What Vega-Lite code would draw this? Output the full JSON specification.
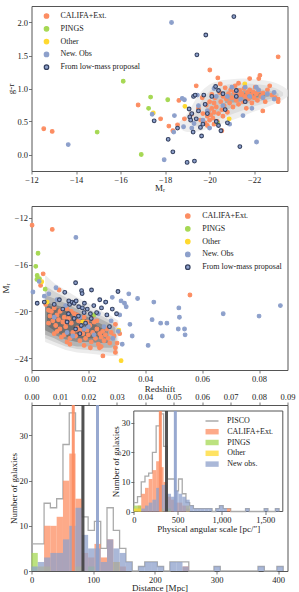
{
"$schema": "https://vega.github.io/schema/vega-lite/v6.json",
"padding": {"left": 0.5, "top": 5, "right": 0, "bottom": 0},
"background": "white",
"spacing": 35,
"bounds": "flush",
"resolve": {"scale": {"color": "independent", "fill": "independent", "stroke": "independent", "strokeDash": "independent"}, "legend": {"color": "independent", "fill": "independent", "stroke": "independent", "strokeDash": "independent"}},
"config": {
  "font": "Liberation Serif",
  "view": {"stroke": "#555", "strokeWidth": 1},
  "axis": {"grid": false, "domain": false, "labelFlush": false, "labelOverlap": false, "tickColor": "#555", "tickSize": 3, "tickWidth": 0.8, "labelPadding": 1, "labelFont": "Liberation Serif", "titleFont": "Liberation Serif", "labelFontSize": 8.5, "titleFontSize": 9, "titleFontWeight": "normal", "labelColor": "#222", "titleColor": "#222", "titleBaseline": "middle"},
  "legend": {"labelFont": "Liberation Serif", "labelFontSize": 8, "labelColor": "#222", "padding": 0}
},
"datasets": {
  "cont1": [
    {"x":-18.6,"lo":0.42,"hi":0.48,"lev":1},{"x":-19.0,"lo":0.34,"hi":0.62,"lev":1},{"x":-19.5,"lo":0.35,"hi":0.90,"lev":1},{"x":-20.0,"lo":0.40,"hi":1.06,"lev":1},{"x":-20.5,"lo":0.46,"hi":1.12,"lev":1},{"x":-21.0,"lo":0.52,"hi":1.14,"lev":1},{"x":-21.5,"lo":0.58,"hi":1.15,"lev":1},{"x":-22.0,"lo":0.65,"hi":1.14,"lev":1},{"x":-22.5,"lo":0.71,"hi":1.12,"lev":1},{"x":-23.0,"lo":0.78,"hi":1.08,"lev":1},{"x":-23.3,"lo":0.83,"hi":1.03,"lev":1},{"x":-23.5,"lo":0.88,"hi":0.98,"lev":1},
    {"x":-19.2,"lo":0.45,"hi":0.55,"lev":2},{"x":-19.5,"lo":0.42,"hi":0.74,"lev":2},{"x":-20.0,"lo":0.48,"hi":0.96,"lev":2},{"x":-20.5,"lo":0.55,"hi":1.04,"lev":2},{"x":-21.0,"lo":0.61,"hi":1.07,"lev":2},{"x":-21.5,"lo":0.67,"hi":1.08,"lev":2},{"x":-22.0,"lo":0.73,"hi":1.07,"lev":2},{"x":-22.5,"lo":0.78,"hi":1.05,"lev":2},{"x":-23.0,"lo":0.84,"hi":1.00,"lev":2},{"x":-23.3,"lo":0.89,"hi":0.94,"lev":2},
    {"x":-19.8,"lo":0.56,"hi":0.68,"lev":3},{"x":-20.3,"lo":0.60,"hi":0.90,"lev":3},{"x":-20.8,"lo":0.68,"hi":0.98,"lev":3},{"x":-21.3,"lo":0.74,"hi":1.01,"lev":3},{"x":-21.8,"lo":0.78,"hi":1.01,"lev":3},{"x":-22.3,"lo":0.81,"hi":0.99,"lev":3},{"x":-22.8,"lo":0.85,"hi":0.96,"lev":3},{"x":-23.1,"lo":0.89,"hi":0.92,"lev":3},
    {"x":-20.7,"lo":0.78,"hi":0.88,"lev":4},{"x":-21.2,"lo":0.79,"hi":0.96,"lev":4},{"x":-21.7,"lo":0.82,"hi":0.97,"lev":4},{"x":-22.2,"lo":0.85,"hi":0.96,"lev":4},{"x":-22.7,"lo":0.88,"hi":0.92,"lev":4},
    {"x":-21.4,"lo":0.86,"hi":0.91,"lev":5},{"x":-21.8,"lo":0.85,"hi":0.95,"lev":5},{"x":-22.2,"lo":0.87,"hi":0.94,"lev":5},{"x":-22.5,"lo":0.89,"hi":0.91,"lev":5}
  ],
  "cont2": [
    {"x":0.0048,"lo":-22.6,"hi":-16.9,"lev":1},{"x":0.008,"lo":-22.9,"hi":-17.6,"lev":1},{"x":0.012,"lo":-23.3,"hi":-18.2,"lev":1},{"x":0.016,"lo":-23.5,"hi":-18.8,"lev":1},{"x":0.020,"lo":-23.6,"hi":-19.3,"lev":1},{"x":0.024,"lo":-23.7,"hi":-19.9,"lev":1},{"x":0.028,"lo":-23.8,"hi":-20.4,"lev":1},{"x":0.0305,"lo":-23.8,"hi":-20.8,"lev":1},
    {"x":0.0048,"lo":-22.3,"hi":-17.8,"lev":2},{"x":0.008,"lo":-22.6,"hi":-18.3,"lev":2},{"x":0.012,"lo":-23.0,"hi":-18.8,"lev":2},{"x":0.016,"lo":-23.2,"hi":-19.4,"lev":2},{"x":0.020,"lo":-23.3,"hi":-19.8,"lev":2},{"x":0.024,"lo":-23.4,"hi":-20.3,"lev":2},{"x":0.028,"lo":-23.5,"hi":-20.8,"lev":2},{"x":0.030,"lo":-23.5,"hi":-21.1,"lev":2},
    {"x":0.0048,"lo":-22.0,"hi":-18.6,"lev":3},{"x":0.008,"lo":-22.3,"hi":-18.9,"lev":3},{"x":0.012,"lo":-22.8,"hi":-19.3,"lev":3},{"x":0.016,"lo":-23.0,"hi":-19.8,"lev":3},{"x":0.020,"lo":-23.0,"hi":-20.2,"lev":3},{"x":0.024,"lo":-23.1,"hi":-20.6,"lev":3},{"x":0.028,"lo":-23.1,"hi":-21.1,"lev":3},{"x":0.0295,"lo":-23.0,"hi":-21.4,"lev":3},
    {"x":0.0048,"lo":-21.6,"hi":-19.2,"lev":4},{"x":0.008,"lo":-22.0,"hi":-19.4,"lev":4},{"x":0.012,"lo":-22.4,"hi":-19.7,"lev":4},{"x":0.016,"lo":-22.6,"hi":-20.1,"lev":4},{"x":0.020,"lo":-22.6,"hi":-20.5,"lev":4},{"x":0.024,"lo":-22.7,"hi":-21.0,"lev":4},{"x":0.027,"lo":-22.7,"hi":-21.4,"lev":4},
    {"x":0.0055,"lo":-21.2,"hi":-19.5,"lev":5},{"x":0.009,"lo":-21.8,"hi":-19.7,"lev":5},{"x":0.013,"lo":-22.2,"hi":-20.0,"lev":5},{"x":0.017,"lo":-22.3,"hi":-20.4,"lev":5},{"x":0.021,"lo":-22.3,"hi":-20.9,"lev":5},{"x":0.025,"lo":-22.2,"hi":-21.5,"lev":5}
  ],
  "pts1": [
    {"x":-12.55,"y":0.39,"s":"C"},{"x":-12.93,"y":0.35,"s":"C"},{"x":-16.79,"y":0.75,"s":"C"},{"x":-17.80,"y":0.54,"s":"C"},{"x":-18.17,"y":0.43,"s":"C"},{"x":-18.35,"y":0.36,"s":"C"},{"x":-18.56,"y":0.45,"s":"C"},{"x":-18.62,"y":0.82,"s":"C"},{"x":-18.87,"y":0.54,"s":"C"},{"x":-19.19,"y":0.61,"s":"C"},{"x":-19.40,"y":1.04,"s":"C"},{"x":-19.67,"y":0.86,"s":"C"},{"x":-20.01,"y":1.28,"s":"C"},{"x":-20.37,"y":1.16,"s":"C"},{"x":-20.55,"y":0.36,"s":"C"},{"x":-22.21,"y":1.15,"s":"C"},{"x":-22.26,"y":1.20,"s":"C"},{"x":-23.08,"y":1.48,"s":"C"},{"x":-23.08,"y":0.84,"s":"C"},{"x":-23.08,"y":0.80,"s":"C"},{"x":-22.39,"y":0.66,"s":"C"},{"x":-21.80,"y":1.15,"s":"C"},{"x":-20.48,"y":1.07,"s":"C"},
    {"x":-19.5,"y":0.70,"s":"C"},{"x":-19.6,"y":0.52,"s":"C"},{"x":-19.7,"y":0.62,"s":"C"},{"x":-19.8,"y":0.48,"s":"C"},{"x":-19.85,"y":0.75,"s":"C"},{"x":-19.9,"y":0.58,"s":"C"},{"x":-19.95,"y":0.66,"s":"C"},{"x":-20.0,"y":0.52,"s":"C"},{"x":-20.0,"y":0.80,"s":"C"},{"x":-20.05,"y":0.60,"s":"C"},{"x":-20.1,"y":0.70,"s":"C"},{"x":-20.1,"y":0.91,"s":"C"},{"x":-20.15,"y":0.55,"s":"C"},{"x":-20.2,"y":0.64,"s":"C"},{"x":-20.2,"y":0.78,"s":"C"},{"x":-20.25,"y":0.86,"s":"C"},{"x":-20.3,"y":0.72,"s":"C"},{"x":-20.35,"y":0.50,"s":"C"},{"x":-20.4,"y":0.62,"s":"C"},{"x":-20.45,"y":0.94,"s":"C"},{"x":-20.5,"y":0.80,"s":"C"},{"x":-20.55,"y":0.68,"s":"C"},{"x":-20.6,"y":0.88,"s":"C"},{"x":-20.65,"y":0.74,"s":"C"},{"x":-20.7,"y":1.01,"s":"C"},{"x":-20.75,"y":0.84,"s":"C"},{"x":-20.8,"y":0.64,"s":"C"},{"x":-20.85,"y":0.92,"s":"C"},{"x":-20.9,"y":0.78,"s":"C"},{"x":-20.95,"y":0.98,"s":"C"},{"x":-21.0,"y":0.86,"s":"C"},{"x":-21.05,"y":0.72,"s":"C"},{"x":-21.1,"y":0.94,"s":"C"},{"x":-21.15,"y":1.04,"s":"C"},{"x":-21.2,"y":0.82,"s":"C"},{"x":-21.25,"y":0.90,"s":"C"},{"x":-21.3,"y":0.76,"s":"C"},{"x":-21.35,"y":0.97,"s":"C"},{"x":-21.4,"y":0.86,"s":"C"},{"x":-21.45,"y":0.92,"s":"C"},{"x":-21.5,"y":0.80,"s":"C"},{"x":-21.55,"y":1.0,"s":"C"},{"x":-21.6,"y":0.88,"s":"C"},{"x":-21.65,"y":0.70,"s":"C"},{"x":-21.7,"y":0.94,"s":"C"},{"x":-21.75,"y":0.84,"s":"C"},{"x":-21.8,"y":0.98,"s":"C"},{"x":-21.85,"y":0.90,"s":"C"},{"x":-21.9,"y":0.78,"s":"C"},{"x":-21.95,"y":0.95,"s":"C"},{"x":-22.0,"y":0.86,"s":"C"},{"x":-22.05,"y":1.02,"s":"C"},{"x":-22.1,"y":0.92,"s":"C"},{"x":-22.15,"y":0.82,"s":"C"},{"x":-22.2,"y":0.96,"s":"C"},{"x":-22.3,"y":0.88,"s":"C"},{"x":-22.4,"y":0.93,"s":"C"},{"x":-22.5,"y":0.80,"s":"C"},{"x":-22.6,"y":0.98,"s":"C"},{"x":-22.7,"y":1.04,"s":"C"},{"x":-22.8,"y":0.90,"s":"C"},{"x":-22.95,"y":0.86,"s":"C"},{"x":-21.3,"y":1.08,"s":"C"},{"x":-20.6,"y":0.58,"s":"C"},{"x":-19.9,"y":0.44,"s":"C"},{"x":-20.2,"y":0.46,"s":"C"},
    {"x":-14.95,"y":0.34,"s":"P"},{"x":-16.12,"y":1.11,"s":"P"},{"x":-16.93,"y":0.0,"s":"P"},{"x":-17.26,"y":0.70,"s":"P"},{"x":-17.35,"y":0.87,"s":"P"},{"x":-18.12,"y":0.83,"s":"P"},{"x":-20.35,"y":0.48,"s":"P"},
    {"x":-17.47,"y":0.63,"s":"O"},{"x":-18.89,"y":0.73,"s":"O"},{"x":-20.88,"y":0.54,"s":"O"},{"x":-21.58,"y":1.07,"s":"O"},
    {"x":-13.65,"y":0.15,"s":"N"},{"x":-17.42,"y":0.61,"s":"N"},{"x":-17.96,"y":-0.08,"s":"N"},{"x":-18.29,"y":2.0,"s":"N"},{"x":-18.42,"y":0.59,"s":"N"},{"x":-18.39,"y":0.34,"s":"N"},{"x":-18.77,"y":0.85,"s":"N"},{"x":-18.87,"y":0.83,"s":"N"},{"x":-18.83,"y":0.42,"s":"N"},{"x":-19.3,"y":0.47,"s":"N"},{"x":-19.5,"y":0.74,"s":"N"},{"x":-19.45,"y":0.90,"s":"N"},{"x":-19.9,"y":0.66,"s":"N"},{"x":-20.2,"y":1.00,"s":"N"},{"x":-20.3,"y":0.88,"s":"N"},{"x":-20.6,"y":0.74,"s":"N"},{"x":-20.9,"y":0.46,"s":"N"},{"x":-21.0,"y":1.02,"s":"N"},{"x":-21.2,"y":0.96,"s":"N"},{"x":-21.5,"y":0.59,"s":"N"},{"x":-21.4,"y":0.84,"s":"N"},{"x":-21.8,"y":0.88,"s":"N"},{"x":-22.11,"y":0.19,"s":"N"},{"x":-22.1,"y":1.02,"s":"N"},{"x":-22.4,"y":0.86,"s":"N"},{"x":-22.6,"y":0.92,"s":"N"},{"x":-22.9,"y":0.94,"s":"N"},{"x":-22.9,"y":0.84,"s":"N"},{"x":-21.9,"y":0.70,"s":"N"},{"x":-20.8,"y":0.88,"s":"N"},{"x":-19.7,"y":0.52,"s":"N"},{"x":-20.0,"y":0.40,"s":"N"},{"x":-21.6,"y":1.02,"s":"N"},{"x":-22.2,"y":0.98,"s":"N"},{"x":-19.2,"y":0.40,"s":"N"},
    {"x":-17.51,"y":0.51,"s":"L"},{"x":-18.14,"y":0.23,"s":"L"},{"x":-18.35,"y":0.04,"s":"L"},{"x":-18.56,"y":0.40,"s":"L"},{"x":-18.99,"y":-0.12,"s":"L"},{"x":-19.08,"y":0.69,"s":"L"},{"x":-19.11,"y":0.57,"s":"L"},{"x":-19.26,"y":0.34,"s":"L"},{"x":-19.28,"y":0.88,"s":"L"},{"x":-19.32,"y":-0.10,"s":"L"},{"x":-19.35,"y":0.90,"s":"L"},{"x":-19.43,"y":1.51,"s":"L"},{"x":-19.59,"y":0.41,"s":"L"},{"x":-19.64,"y":0.28,"s":"L"},{"x":-19.70,"y":0.46,"s":"L"},{"x":-19.74,"y":0.90,"s":"L"},{"x":-19.83,"y":1.81,"s":"L"},{"x":-20.27,"y":1.03,"s":"L"},{"x":-20.51,"y":0.36,"s":"L"},{"x":-21.09,"y":2.09,"s":"L"},{"x":-21.36,"y":0.12,"s":"L"},{"x":-19.2,"y":0.62,"s":"L"},{"x":-19.5,"y":0.66,"s":"L"},{"x":-19.4,"y":0.54,"s":"L"},{"x":-19.9,"y":0.62,"s":"L"},{"x":-20.1,"y":0.88,"s":"L"},{"x":-20.3,"y":0.50,"s":"L"},{"x":-20.4,"y":0.97,"s":"L"},{"x":-20.7,"y":0.68,"s":"L"},{"x":-20.8,"y":0.48,"s":"L"},{"x":-21.2,"y":0.88,"s":"L"},{"x":-21.6,"y":0.80,"s":"L"},{"x":-21.2,"y":0.97,"s":"L"},{"x":-20.6,"y":0.92,"s":"L"},{"x":-19.8,"y":0.76,"s":"L"},{"x":-20.4,"y":0.44,"s":"L"},{"x":-19.15,"y":0.52,"s":"L"}
  ],
  "pts2": [
    {"x":0.0002,"y":-12.64,"s":"C"},{"x":0.0073,"y":-13.0,"s":"C"},{"x":0.0041,"y":-16.79,"s":"C"},{"x":0.0032,"y":-17.78,"s":"C"},{"x":0.0097,"y":-18.17,"s":"C"},{"x":0.0557,"y":-18.6,"s":"C"},{"x":0.0251,"y":-23.8,"s":"C"},{"x":0.0295,"y":-23.5,"s":"C"},{"x":0.0295,"y":-23.1,"s":"C"},{"x":0.0301,"y":-22.7,"s":"C"},{"x":0.031,"y":-21.9,"s":"C"},{"x":0.0295,"y":-21.1,"s":"C"},{"x":0.0239,"y":-23.1,"s":"C"},{"x":0.0207,"y":-23.1,"s":"C"},
    {"x":0.005,"y":-19.4,"s":"C"},{"x":0.006,"y":-19.9,"s":"C"},{"x":0.0065,"y":-20.4,"s":"C"},{"x":0.007,"y":-20.0,"s":"C"},{"x":0.0075,"y":-20.8,"s":"C"},{"x":0.008,"y":-19.7,"s":"C"},{"x":0.0085,"y":-21.2,"s":"C"},{"x":0.009,"y":-20.3,"s":"C"},{"x":0.0095,"y":-20.7,"s":"C"},{"x":0.010,"y":-21.5,"s":"C"},{"x":0.0105,"y":-19.9,"s":"C"},{"x":0.011,"y":-20.9,"s":"C"},{"x":0.0115,"y":-22.0,"s":"C"},{"x":0.012,"y":-21.3,"s":"C"},{"x":0.0125,"y":-22.6,"s":"C"},{"x":0.013,"y":-20.6,"s":"C"},{"x":0.0135,"y":-22.3,"s":"C"},{"x":0.014,"y":-21.0,"s":"C"},{"x":0.0145,"y":-21.8,"s":"C"},{"x":0.015,"y":-20.2,"s":"C"},{"x":0.0155,"y":-22.1,"s":"C"},{"x":0.016,"y":-21.4,"s":"C"},{"x":0.0165,"y":-20.8,"s":"C"},{"x":0.017,"y":-22.5,"s":"C"},{"x":0.0175,"y":-21.1,"s":"C"},{"x":0.018,"y":-21.9,"s":"C"},{"x":0.0185,"y":-20.5,"s":"C"},{"x":0.019,"y":-22.3,"s":"C"},{"x":0.0195,"y":-21.6,"s":"C"},{"x":0.020,"y":-22.0,"s":"C"},{"x":0.0205,"y":-21.2,"s":"C"},{"x":0.021,"y":-22.6,"s":"C"},{"x":0.0215,"y":-21.8,"s":"C"},{"x":0.022,"y":-20.9,"s":"C"},{"x":0.0225,"y":-22.3,"s":"C"},{"x":0.023,"y":-21.5,"s":"C"},{"x":0.0235,"y":-22.8,"s":"C"},{"x":0.024,"y":-21.9,"s":"C"},{"x":0.0245,"y":-22.2,"s":"C"},{"x":0.025,"y":-21.7,"s":"C"},{"x":0.0255,"y":-22.5,"s":"C"},{"x":0.026,"y":-22.0,"s":"C"},{"x":0.027,"y":-22.3,"s":"C"},{"x":0.028,"y":-21.8,"s":"C"},{"x":0.029,"y":-22.1,"s":"C"},{"x":0.0125,"y":-19.8,"s":"C"},{"x":0.014,"y":-20.0,"s":"C"},{"x":0.016,"y":-20.3,"s":"C"},{"x":0.012,"y":-21.0,"s":"C"},{"x":0.0115,"y":-20.5,"s":"C"},{"x":0.009,"y":-21.7,"s":"C"},{"x":0.0105,"y":-22.2,"s":"C"},{"x":0.0135,"y":-22.8,"s":"C"},{"x":0.0155,"y":-21.6,"s":"C"},{"x":0.017,"y":-21.6,"s":"C"},{"x":0.0185,"y":-22.9,"s":"C"},{"x":0.0215,"y":-20.4,"s":"C"},{"x":0.023,"y":-20.8,"s":"C"},{"x":0.0195,"y":-20.9,"s":"C"},{"x":0.006,"y":-21.0,"s":"C"},{"x":0.008,"y":-21.9,"s":"C"},{"x":0.0245,"y":-23.0,"s":"C"},{"x":0.0265,"y":-21.5,"s":"C"},{"x":0.0275,"y":-22.7,"s":"C"},{"x":0.010,"y":-20.0,"s":"C"},
    {"x":0.0023,"y":-15.03,"s":"P"},{"x":0.0015,"y":-16.15,"s":"P"},{"x":0.002,"y":-16.93,"s":"P"},{"x":0.0019,"y":-17.27,"s":"P"},{"x":0.0028,"y":-17.2,"s":"P"},{"x":0.0048,"y":-18.1,"s":"P"},{"x":0.022,"y":-20.3,"s":"P"},
    {"x":0.0036,"y":-17.47,"s":"O"},{"x":0.0315,"y":-24.2,"s":"O"},{"x":0.0307,"y":-21.6,"s":"O"},{"x":0.018,"y":-20.9,"s":"O"},{"x":0.0055,"y":-19.2,"s":"O"},
    {"x":0.0156,"y":-13.68,"s":"N"},{"x":0.0027,"y":-17.44,"s":"N"},{"x":0.0005,"y":-18.34,"s":"N"},{"x":0.0086,"y":-17.98,"s":"N"},{"x":0.0284,"y":-18.8,"s":"N"},{"x":0.0315,"y":-19.1,"s":"N"},{"x":0.0342,"y":-18.5,"s":"N"},{"x":0.0373,"y":-18.9,"s":"N"},{"x":0.0327,"y":-19.3,"s":"N"},{"x":0.0333,"y":-19.6,"s":"N"},{"x":0.043,"y":-19.2,"s":"N"},{"x":0.0518,"y":-19.7,"s":"N"},{"x":0.052,"y":-20.5,"s":"N"},{"x":0.0674,"y":-20.2,"s":"N"},{"x":0.080,"y":-20.4,"s":"N"},{"x":0.0875,"y":-19.5,"s":"N"},{"x":0.0424,"y":-20.7,"s":"N"},{"x":0.0454,"y":-21.0,"s":"N"},{"x":0.0476,"y":-21.0,"s":"N"},{"x":0.0516,"y":-21.5,"s":"N"},{"x":0.0538,"y":-21.5,"s":"N"},{"x":0.054,"y":-22.0,"s":"N"},{"x":0.046,"y":-22.1,"s":"N"},{"x":0.0354,"y":-22.1,"s":"N"},{"x":0.041,"y":-22.9,"s":"N"},{"x":0.0346,"y":-21.1,"s":"N"},{"x":0.0319,"y":-22.8,"s":"N"},{"x":0.0286,"y":-22.3,"s":"N"},{"x":0.026,"y":-19.2,"s":"N"},{"x":0.0061,"y":-18.5,"s":"N"},{"x":0.0045,"y":-18.7,"s":"N"},{"x":0.009,"y":-19.0,"s":"N"},{"x":0.012,"y":-19.5,"s":"N"},{"x":0.0125,"y":-21.8,"s":"N"},{"x":0.017,"y":-20.5,"s":"N"},{"x":0.02,"y":-21.3,"s":"N"},{"x":0.022,"y":-22.0,"s":"N"},{"x":0.0255,"y":-21.3,"s":"N"},{"x":0.028,"y":-20.8,"s":"N"},{"x":0.031,"y":-20.3,"s":"N"},{"x":0.0305,"y":-21.7,"s":"N"},{"x":0.0145,"y":-22.1,"s":"N"},{"x":0.008,"y":-20.5,"s":"N"},{"x":0.0185,"y":-21.5,"s":"N"},{"x":0.0235,"y":-20.2,"s":"N"},
    {"x":0.0155,"y":-17.55,"s":"L"},{"x":0.0117,"y":-18.37,"s":"L"},{"x":0.0176,"y":-18.23,"s":"L"},{"x":0.0178,"y":-18.48,"s":"L"},{"x":0.0211,"y":-18.17,"s":"L"},{"x":0.024,"y":-19.0,"s":"L"},{"x":0.0304,"y":-18.3,"s":"L"},{"x":0.0299,"y":-20.2,"s":"L"},{"x":0.0284,"y":-19.8,"s":"L"},{"x":0.0274,"y":-21.3,"s":"L"},{"x":0.0246,"y":-19.7,"s":"L"},{"x":0.0261,"y":-19.2,"s":"L"},{"x":0.0219,"y":-19.5,"s":"L"},{"x":0.0196,"y":-19.8,"s":"L"},{"x":0.0207,"y":-20.2,"s":"L"},{"x":0.0131,"y":-19.1,"s":"L"},{"x":0.0134,"y":-19.4,"s":"L"},{"x":0.0143,"y":-19.2,"s":"L"},{"x":0.015,"y":-19.3,"s":"L"},{"x":0.0157,"y":-19.1,"s":"L"},{"x":0.0166,"y":-19.6,"s":"L"},{"x":0.0186,"y":-19.3,"s":"L"},{"x":0.0179,"y":-19.7,"s":"L"},{"x":0.0098,"y":-19.0,"s":"L"},{"x":0.002,"y":-19.3,"s":"L"},{"x":0.0229,"y":-20.1,"s":"L"},{"x":0.013,"y":-20.2,"s":"L"},{"x":0.015,"y":-20.6,"s":"L"},{"x":0.0165,"y":-20.4,"s":"L"},{"x":0.0175,"y":-21.2,"s":"L"},{"x":0.017,"y":-21.9,"s":"L"},{"x":0.019,"y":-21.0,"s":"L"},{"x":0.021,"y":-20.6,"s":"L"},{"x":0.0045,"y":-19.2,"s":"L"},{"x":0.008,"y":-19.4,"s":"L"},{"x":0.011,"y":-19.8,"s":"L"},{"x":0.0125,"y":-20.9,"s":"L"},{"x":0.0185,"y":-20.1,"s":"L"},{"x":0.0155,"y":-21.5,"s":"L"},{"x":0.0265,"y":-20.3,"s":"L"}
  ],
  "hist": [
    {"a":20.4,"b":30.6,"n":10,"s":"C"},{"a":30.6,"b":40.8,"n":10,"s":"C"},{"a":40.8,"b":51,"n":12,"s":"C"},{"a":51,"b":61.2,"n":20,"s":"C"},{"a":61.2,"b":71.4,"n":26,"s":"C"},{"a":71.4,"b":81.6,"n":16,"s":"C"},{"a":81.6,"b":91.8,"n":4,"s":"C"},{"a":91.8,"b":102,"n":3,"s":"C"},{"a":102,"b":112.2,"n":6,"s":"C"},{"a":112.2,"b":122.4,"n":3,"s":"C"},{"a":122.4,"b":132.6,"n":7,"s":"C"},{"a":132.6,"b":142.8,"n":2,"s":"C"},{"a":142.8,"b":153,"n":1,"s":"C"},{"a":244.8,"b":255,"n":1,"s":"C"},
    {"a":0,"b":10.2,"n":4,"s":"P"},{"a":91.8,"b":102,"n":1,"s":"P"},
    {"a":10.2,"b":20.4,"n":1,"s":"O"},{"a":20.4,"b":30.6,"n":1,"s":"O"},{"a":71.4,"b":81.6,"n":1,"s":"O"},{"a":132.6,"b":142.8,"n":2,"s":"O"},
    {"a":0,"b":10.2,"n":1,"s":"N"},{"a":10.2,"b":20.4,"n":2,"s":"N"},{"a":20.4,"b":30.6,"n":3,"s":"N"},{"a":30.6,"b":40.8,"n":4,"s":"N"},{"a":40.8,"b":51,"n":4,"s":"N"},{"a":51,"b":61.2,"n":7,"s":"N"},{"a":61.2,"b":71.4,"n":10,"s":"N"},{"a":71.4,"b":81.6,"n":14,"s":"N"},{"a":81.6,"b":91.8,"n":8,"s":"N"},{"a":91.8,"b":102,"n":5,"s":"N"},{"a":102,"b":112.2,"n":5,"s":"N"},{"a":112.2,"b":122.4,"n":2,"s":"N"},{"a":122.4,"b":132.6,"n":7,"s":"N"},{"a":132.6,"b":142.8,"n":5,"s":"N"},{"a":142.8,"b":153,"n":4,"s":"N"},{"a":153,"b":163.2,"n":2,"s":"N"},{"a":173.4,"b":183.6,"n":1,"s":"N"},{"a":183.6,"b":193.8,"n":2,"s":"N"},{"a":193.8,"b":204,"n":2,"s":"N"},{"a":204,"b":214.2,"n":1,"s":"N"},{"a":224.4,"b":234.6,"n":2,"s":"N"},{"a":234.6,"b":244.8,"n":2,"s":"N"},{"a":244.8,"b":255,"n":1,"s":"N"},{"a":295.8,"b":306,"n":1,"s":"N"},{"a":367.2,"b":377.4,"n":1,"s":"N"},{"a":397.8,"b":408,"n":1,"s":"N"}
  ],
  "stepA": [
    {"a":0,"n":6,"s":"A"},{"a":10.2,"n":6,"s":"A"},{"a":20.4,"n":15,"s":"A"},{"a":30.6,"n":14,"s":"A"},{"a":40.8,"n":16,"s":"A"},{"a":51,"n":28,"s":"A"},{"a":61.2,"n":35,"s":"A"},{"a":71.4,"n":31,"s":"A"},{"a":81.6,"n":12,"s":"A"},{"a":91.8,"n":9,"s":"A"},{"a":102,"n":11,"s":"A"},{"a":112.2,"n":5,"s":"A"},{"a":122.4,"n":14,"s":"A"},{"a":132.6,"n":9,"s":"A"},{"a":142.8,"n":5,"s":"A"},{"a":153,"n":2,"s":"A"},{"a":163.2,"n":0,"s":"A"},{"a":173.4,"n":1,"s":"A"},{"a":183.6,"n":2,"s":"A"},{"a":193.8,"n":2,"s":"A"},{"a":204,"n":1,"s":"A"},{"a":214.2,"n":0,"s":"A"},{"a":224.4,"n":2,"s":"A"},{"a":234.6,"n":2,"s":"A"},{"a":244.8,"n":2,"s":"A"},{"a":255,"n":0,"s":"A"},{"a":295.8,"n":1,"s":"A"},{"a":306,"n":0,"s":"A"},{"a":367.2,"n":1,"s":"A"},{"a":377.4,"n":0,"s":"A"},{"a":397.8,"n":1,"s":"A"},{"a":408,"n":0,"s":"A"}
  ],
  "ins": [
    {"a":42.5,"b":85,"n":2,"s":"C"},{"a":85,"b":127.5,"n":6,"s":"C"},{"a":127.5,"b":170,"n":8,"s":"C"},{"a":170,"b":212.5,"n":11,"s":"C"},{"a":212.5,"b":255,"n":14,"s":"C"},{"a":255,"b":297.5,"n":17,"s":"C"},{"a":297.5,"b":340,"n":15,"s":"C"},{"a":340,"b":382.5,"n":10,"s":"C"},{"a":382.5,"b":425,"n":5,"s":"C"},{"a":425,"b":467.5,"n":4,"s":"C"},{"a":467.5,"b":510,"n":3,"s":"C"},{"a":510,"b":552.5,"n":3,"s":"C"},{"a":552.5,"b":595,"n":2,"s":"C"},{"a":595,"b":637.5,"n":1,"s":"C"},{"a":1062.5,"b":1105,"n":1,"s":"C"},
    {"a":0,"b":42.5,"n":2,"s":"P"},{"a":42.5,"b":85,"n":2,"s":"P"},{"a":382.5,"b":425,"n":1,"s":"P"},
    {"a":0,"b":42.5,"n":1,"s":"O"},{"a":42.5,"b":85,"n":1,"s":"O"},{"a":297.5,"b":340,"n":1,"s":"O"},{"a":595,"b":637.5,"n":2,"s":"O"},
    {"a":85,"b":127.5,"n":1,"s":"N"},{"a":127.5,"b":170,"n":2,"s":"N"},{"a":170,"b":212.5,"n":3,"s":"N"},{"a":212.5,"b":255,"n":4,"s":"N"},{"a":255,"b":297.5,"n":8,"s":"N"},{"a":297.5,"b":340,"n":9,"s":"N"},{"a":340,"b":382.5,"n":9,"s":"N"},{"a":382.5,"b":425,"n":6,"s":"N"},{"a":425,"b":467.5,"n":5,"s":"N"},{"a":467.5,"b":510,"n":7,"s":"N"},{"a":510,"b":552.5,"n":6,"s":"N"},{"a":552.5,"b":595,"n":5,"s":"N"},{"a":595,"b":637.5,"n":4,"s":"N"},{"a":637.5,"b":680,"n":2,"s":"N"},{"a":680,"b":722.5,"n":1,"s":"N"},{"a":722.5,"b":765,"n":1,"s":"N"},{"a":765,"b":807.5,"n":1,"s":"N"},{"a":807.5,"b":850,"n":1,"s":"N"},{"a":850,"b":892.5,"n":1,"s":"N"},{"a":935,"b":977.5,"n":1,"s":"N"},{"a":977.5,"b":1020,"n":2,"s":"N"},{"a":1020,"b":1062.5,"n":1,"s":"N"},{"a":1275,"b":1317.5,"n":1,"s":"N"},{"a":1487.5,"b":1530,"n":1,"s":"N"},{"a":1615,"b":1657.5,"n":1,"s":"N"}
  ],
  "insA": [
    {"a":0,"n":3},{"a":42.5,"n":5},{"a":85,"n":10},{"a":127.5,"n":12},{"a":170,"n":13},{"a":212.5,"n":20},{"a":255,"n":29},{"a":297.5,"n":33},{"a":340,"n":22},{"a":382.5,"n":11},{"a":425,"n":11},{"a":467.5,"n":7},{"a":510,"n":11},{"a":552.5,"n":6},{"a":595,"n":3},{"a":637.5,"n":2},{"a":680,"n":1},{"a":892.5,"n":0},{"a":935,"n":1},{"a":977.5,"n":2},{"a":1020,"n":1},{"a":1105,"n":0},{"a":1275,"n":1},{"a":1317.5,"n":0},{"a":1487.5,"n":1},{"a":1530,"n":0},{"a":1615,"n":1},{"a":1657.5,"n":0}
  ],
  "med": [{"v":67.7,"s":"C"},{"v":83.4,"s":"A"},{"v":107,"s":"N"}],
  "medI": [{"v":303,"s":"C"},{"v":373,"s":"A"},{"v":474,"s":"N"}]
},
"vconcat": [
  {
    "width": 256, "height": 165,
    "layer": [
      {"data": {"name": "cont1"}, "mark": {"type": "area", "interpolate": "monotone", "opacity": 1},
       "encoding": {
         "x": {"field": "x", "type": "quantitative", "scale": {"domain": [-23.5, -12], "reverse": true, "nice": false, "zero": false}, "axis": {"title": "Mᵣ", "values": [-12, -14, -16, -18, -20, -22], "format": "d", "titleY": 16.8}},
         "y": {"field": "hi", "type": "quantitative", "scale": {"domain": [-0.25, 2.25], "nice": false, "zero": false}, "axis": {"title": "g-r", "values": [0, 0.5, 1, 1.5, 2], "format": ".1f", "titleX": -21.5}},
         "y2": {"field": "lo"},
         "color": {"field": "lev", "type": "ordinal", "scale": {"domain": [1, 2, 3, 4, 5], "range": ["#eeeeee", "#dedede", "#c8c8c8", "#a9a9a9", "#8e8e8e"]}, "legend": null}
       }},
      {"data": {"name": "pts1"}, "mark": {"type": "circle", "size": 14, "strokeWidth": 1.1, "opacity": 1},
       "encoding": {
         "x": {"field": "x", "type": "quantitative"},
         "y": {"field": "y", "type": "quantitative"},
         "fill": {"field": "s", "type": "nominal", "scale": {"domain": ["C", "P", "O", "N", "L"], "range": ["#fc8d62", "#a6d854", "#ffd92f", "#8da0cb", "#8da0cb"]},
           "legend": {"title": null, "orient": "none", "legendX": 11, "legendY": 6, "padding": 0, "rowPadding": 2.8, "labelOffset": 10, "symbolSize": 20, "symbolStrokeWidth": 1.2, "labelFontSize": 8,
             "labelExpr": "datum.label == 'C' ? 'CALIFA+Ext.' : datum.label == 'P' ? 'PINGS' : datum.label == 'O' ? 'Other' : datum.label == 'N' ? 'New. Obs' : 'From low-mass proposal'"}},
         "stroke": {"field": "s", "type": "nominal", "scale": {"domain": ["C", "P", "O", "N", "L"], "range": ["#fc8d62", "#a6d854", "#ffd92f", "#8da0cb", "#34405f"]}, "legend": null}
       }}
    ]
  },
  {
    "width": 256, "height": 164,
    "layer": [
      {"data": {"name": "cont2"}, "mark": {"type": "area", "interpolate": "linear", "opacity": 1},
       "encoding": {
         "x": {"field": "x", "type": "quantitative", "scale": {"domain": [0, 0.09], "nice": false, "zero": false}, "axis": {"title": "Redshift", "values": [0, 0.01, 0.02, 0.03, 0.04, 0.05, 0.06, 0.07, 0.08, 0.09], "format": ".2f", "titleY": 18.7}},
         "y": {"field": "hi", "type": "quantitative", "scale": {"domain": [-25, -11], "nice": false, "zero": false}, "axis": {"title": "Mᵣ", "values": [-12, -14, -16, -18, -20, -22, -24], "format": "d", "titleX": -26}},
         "y2": {"field": "lo"},
         "color": {"field": "lev", "type": "ordinal", "scale": {"domain": [1, 2, 3, 4, 5], "range": ["#ececec", "#d4d4d4", "#b4b4b4", "#8c8c8c", "#6e6e6e"]}, "legend": null}
       }},
      {"data": {"name": "pts2"}, "mark": {"type": "circle", "size": 14, "strokeWidth": 1.1, "opacity": 1},
       "encoding": {
         "x": {"field": "x", "type": "quantitative"},
         "y": {"field": "y", "type": "quantitative"},
         "fill": {"field": "s", "type": "nominal", "scale": {"domain": ["C", "P", "O", "N", "L"], "range": ["#fc8d62", "#a6d854", "#ffd92f", "#8da0cb", "#8da0cb"]},
           "legend": {"title": null, "orient": "none", "legendX": 152.3, "legendY": 6, "padding": 0, "rowPadding": 2.8, "labelOffset": 10.4, "symbolSize": 20, "symbolStrokeWidth": 1.2, "labelFontSize": 8,
             "labelExpr": "datum.label == 'C' ? 'CALIFA+Ext.' : datum.label == 'P' ? 'PINGS' : datum.label == 'O' ? 'Other' : datum.label == 'N' ? 'New. Obs' : 'From low-mass proposal'"}},
         "stroke": {"field": "s", "type": "nominal", "scale": {"domain": ["C", "P", "O", "N", "L"], "range": ["#fc8d62", "#a6d854", "#ffd92f", "#8da0cb", "#34405f"]}, "legend": null}
       }}
    ]
  },
  {
    "width": 256, "height": 166,
    "resolve": {"scale": {"x": "independent", "y": "independent"}, "axis": {"x": "independent", "y": "independent"}},
    "layer": [
      {
        "layer": [
          {"data": {"name": "stepA"}, "mark": {"type": "line", "interpolate": "step-after", "strokeWidth": 1.3, "color": "#aaaaaa"},
           "encoding": {
             "x": {"field": "a", "type": "quantitative", "scale": {"domain": [0, 415], "nice": false, "zero": false}, "axis": {"orient": "bottom", "title": "Distance [Mpc]", "values": [0, 50, 100, 150, 200, 250, 300, 350, 400], "titleY": 16.6}},
             "y": {"field": "n", "type": "quantitative", "scale": {"domain": [0, 36.75], "nice": false, "zero": false}, "axis": {"orient": "left", "title": "Number of galaxies", "values": [0, 5, 10, 15, 20, 25, 30, 35], "titleX": -18.5}},
             "strokeDash": {"field": "s", "type": "nominal", "scale": {"domain": ["A"], "range": [[1, 0]]},
               "legend": {"title": null, "orient": "none", "legendX": 173, "legendY": 8.5, "padding": 0, "labelOffset": 7.6, "symbolSize": 169, "symbolStrokeWidth": 1.5, "symbolStrokeColor": "#aaaaaa", "labelFontSize": 8, "labelExpr": "'PISCO'"}}
           }},
          {"data": {"name": "hist"}, "mark": {"type": "bar", "opacity": 0.75},
           "encoding": {
             "x": {"field": "a", "type": "quantitative"},
             "x2": {"field": "b"},
             "y": {"field": "n", "type": "quantitative", "stack": null},
             "y2": {"datum": 0},
             "color": {"field": "s", "type": "nominal", "scale": {"domain": ["C", "P", "O", "N"], "range": ["#fc8d62", "#a6d854", "#ffd92f", "#8da0cb"]},
               "legend": {"title": null, "orient": "none", "legendX": 176.6, "legendY": 22.7, "padding": 0, "rowPadding": 2.8, "labelOffset": 11.1, "symbolSize": 30, "symbolStrokeWidth": 0, "symbolType": "M-2.4,-1H2.4V1H-2.4Z", "symbolOpacity": 0.8, "labelFontSize": 8,
                 "labelExpr": "datum.label == 'C' ? 'CALIFA+Ext.' : datum.label == 'P' ? 'PINGS' : datum.label == 'O' ? 'Other' : 'New obs.'"}}
           }},
          {"data": {"name": "med"}, "mark": {"type": "rule", "strokeWidth": 3, "opacity": 0.9},
           "encoding": {
             "x": {"field": "v", "type": "quantitative"},
             "y": {"datum": 0, "type": "quantitative"},
             "y2": {"datum": 36.75},
             "stroke": {"field": "s", "type": "nominal", "scale": {"domain": ["C", "A", "N"], "range": ["#fc8d62", "#404040", "#8da0cb"]}, "legend": null}
           }}
        ]
      },
      {"data": {"values": [{}]}, "mark": {"type": "rule", "opacity": 0},
       "encoding": {
         "x": {"datum": 0, "type": "quantitative", "scale": {"domain": [0, 0.09], "nice": false, "zero": false}, "axis": {"orient": "top", "title": null, "values": [0, 0.01, 0.02, 0.03, 0.04, 0.05, 0.06, 0.07, 0.08, 0.09], "format": ".2f"}}
       }},
      {
        "layer": [
          {"data": {"values": [{}]}, "mark": {"type": "rect", "fill": "white", "stroke": "#555", "strokeWidth": 1},
           "encoding": {
             "x": {"datum": 0, "type": "quantitative", "scale": {"domain": [0, 1700], "range": [102.3, 251.3], "nice": false, "zero": false}, "axis": {"orient": "bottom", "offset": -59.5, "title": "Physical angular scale [pc/″]", "values": [0, 500, 1000, 1500], "titleY": 16.8, "zindex": 1}},
             "x2": {"datum": 1700},
             "y": {"datum": 0, "type": "quantitative", "scale": {"domain": [0, 34], "range": [106.5, 6], "nice": false, "zero": false}, "axis": {"orient": "left", "offset": -102.3, "title": "Number of galaxies", "values": [0, 10, 20, 30], "titleX": -18.3, "zindex": 1}},
             "y2": {"datum": 34}
           }},
          {"data": {"name": "insA"}, "mark": {"type": "line", "interpolate": "step-after", "strokeWidth": 1.3, "color": "#aaaaaa"},
           "encoding": {
             "x": {"field": "a", "type": "quantitative"},
             "y": {"field": "n", "type": "quantitative"}
           }},
          {"data": {"name": "ins"}, "mark": {"type": "bar", "opacity": 0.75},
           "encoding": {
             "x": {"field": "a", "type": "quantitative"},
             "x2": {"field": "b"},
             "y": {"field": "n", "type": "quantitative", "stack": null},
             "y2": {"datum": 0},
             "color": {"field": "s", "type": "nominal"}
           }},
          {"data": {"name": "medI"}, "mark": {"type": "rule", "strokeWidth": 3, "opacity": 0.9},
           "encoding": {
             "x": {"field": "v", "type": "quantitative"},
             "y": {"datum": 0, "type": "quantitative"},
             "y2": {"datum": 34},
             "stroke": {"field": "s", "type": "nominal", "legend": null}
           }}
        ]
      }
    ]
  }
]
}
